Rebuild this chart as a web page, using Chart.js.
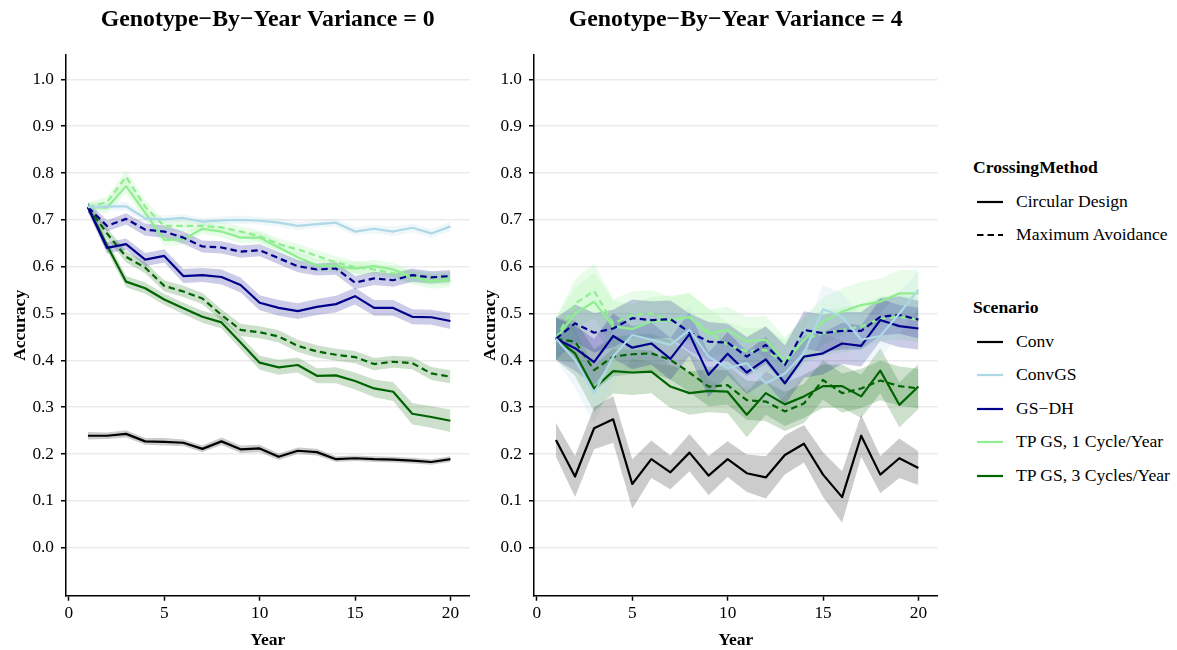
<!DOCTYPE html>
<html>
<head>
<meta charset="utf-8">
<script src="https://cdn.jsdelivr.net/npm/chart.js@4.4.0/dist/chart.umd.min.js"></script>
<style>
  body { margin: 0; background: #fff; width: 1177px; height: 650px; overflow: hidden; position: relative; font-family: 'Liberation Serif', serif; }
  canvas { position: absolute; top: 0; }
  #panel0 { left: 0; }
  #panel4 { left: 470px; }
  #legend { position: absolute; left: 973px; top: 151.25px; z-index: 2; color: #000; }
  .lg-group { margin-bottom: 39.5px; }
  .lg-title { height: 33.5px; line-height: 33.5px; font-size: 17.6px; font-weight: bold; white-space: nowrap; }
  .lg-row { position: relative; height: 33.5px; line-height: 33.5px; font-size: 17.6px; white-space: nowrap; }
  .lg-row svg { position: absolute; left: 4px; top: 15px; }
  .lg-row span { position: absolute; left: 43px; }
</style>
</head>
<body>
<canvas id="panel0" width="480" height="650"></canvas>
<canvas id="panel4" width="480" height="650"></canvas>
<div id="legend"></div>
<script>
  var years = [1, 2, 3, 4, 5, 6, 7, 8, 9, 10, 11, 12, 13, 14, 15, 16, 17, 18, 19, 20];
  var xTickValues = [0, 5, 10, 15, 20];
  var yTickValues = [0.0, 0.1, 0.2, 0.3, 0.4, 0.5, 0.6, 0.7, 0.8, 0.9, 1.0];
  var crossingMethods = ['Circular Design', 'Maximum Avoidance'];
  var scenarios = ['Conv', 'ConvGS', 'GS\u2212DH', 'TP GS, 1 Cycle/Year', 'TP GS, 3 Cycles/Year'];
  var panelTitles = ['Genotype\u2212By\u2212Year Variance = 0', 'Genotype\u2212By\u2212Year Variance = 4'];

  // Genotype-by-year variance = 0 : mean accuracy
  var v0Conv = [0.239, 0.239, 0.243, 0.227, 0.226, 0.224, 0.211, 0.227, 0.210, 0.212, 0.194, 0.207, 0.204, 0.189, 0.191, 0.189, 0.188, 0.186, 0.183, 0.189];
  var v0ConvGS = [0.727, 0.728, 0.729, 0.703, 0.701, 0.704, 0.696, 0.699, 0.700, 0.698, 0.694, 0.687, 0.691, 0.694, 0.675, 0.681, 0.675, 0.683, 0.671, 0.686];
  var v0GSDHCircular = [0.727, 0.640, 0.648, 0.615, 0.623, 0.580, 0.582, 0.578, 0.561, 0.523, 0.512, 0.505, 0.514, 0.520, 0.537, 0.512, 0.512, 0.493, 0.492, 0.484];
  var v0GSDHMaxAvoid = [0.727, 0.687, 0.702, 0.679, 0.675, 0.662, 0.643, 0.641, 0.632, 0.635, 0.618, 0.601, 0.594, 0.596, 0.566, 0.575, 0.571, 0.582, 0.577, 0.580];
  var v0TP1Circular = [0.727, 0.726, 0.772, 0.715, 0.657, 0.658, 0.681, 0.675, 0.662, 0.662, 0.641, 0.620, 0.603, 0.601, 0.596, 0.601, 0.594, 0.578, 0.568, 0.571];
  var v0TP1MaxAvoid = [0.727, 0.738, 0.792, 0.728, 0.687, 0.687, 0.687, 0.684, 0.675, 0.665, 0.648, 0.637, 0.623, 0.609, 0.599, 0.594, 0.586, 0.578, 0.575, 0.575];
  var v0TP3Circular = [0.727, 0.645, 0.568, 0.554, 0.530, 0.511, 0.493, 0.481, 0.438, 0.395, 0.385, 0.390, 0.367, 0.368, 0.356, 0.340, 0.333, 0.286, 0.279, 0.271];
  var v0TP3MaxAvoid = [0.727, 0.671, 0.621, 0.598, 0.559, 0.547, 0.532, 0.497, 0.465, 0.460, 0.451, 0.431, 0.419, 0.412, 0.407, 0.392, 0.397, 0.394, 0.372, 0.365];

  // Genotype-by-year variance = 0 : ribbon half widths
  var v0ConvBand = [0.008, 0.007, 0.008, 0.007, 0.008, 0.007, 0.007, 0.008, 0.008, 0.008, 0.007, 0.007, 0.007, 0.006, 0.006, 0.006, 0.006, 0.006, 0.006, 0.006];
  var v0ConvGSBand = [0.008, 0.008, 0.009, 0.008, 0.009, 0.008, 0.008, 0.008, 0.009, 0.008, 0.009, 0.009, 0.008, 0.009, 0.009, 0.009, 0.010, 0.009, 0.010, 0.010];
  var v0GSDHCircularBand = [0.010, 0.012, 0.012, 0.014, 0.014, 0.015, 0.015, 0.016, 0.016, 0.016, 0.017, 0.017, 0.017, 0.018, 0.018, 0.017, 0.017, 0.016, 0.016, 0.017];
  var v0GSDHMaxAvoidBand = [0.010, 0.012, 0.012, 0.013, 0.013, 0.013, 0.013, 0.013, 0.013, 0.013, 0.013, 0.013, 0.013, 0.013, 0.014, 0.014, 0.014, 0.014, 0.013, 0.013];
  var v0TP1CircularBand = [0.010, 0.012, 0.015, 0.014, 0.013, 0.012, 0.012, 0.012, 0.012, 0.012, 0.013, 0.013, 0.013, 0.013, 0.014, 0.014, 0.014, 0.015, 0.015, 0.015];
  var v0TP1MaxAvoidBand = [0.010, 0.012, 0.014, 0.014, 0.012, 0.012, 0.012, 0.012, 0.012, 0.012, 0.012, 0.012, 0.012, 0.013, 0.013, 0.013, 0.013, 0.014, 0.014, 0.014];
  var v0TP3CircularBand = [0.010, 0.012, 0.012, 0.012, 0.012, 0.012, 0.013, 0.013, 0.014, 0.015, 0.016, 0.016, 0.016, 0.017, 0.018, 0.019, 0.020, 0.023, 0.023, 0.024];
  var v0TP3MaxAvoidBand = [0.010, 0.012, 0.012, 0.012, 0.012, 0.012, 0.012, 0.012, 0.013, 0.013, 0.013, 0.013, 0.013, 0.013, 0.013, 0.013, 0.013, 0.013, 0.014, 0.014];

  // Genotype-by-year variance = 4 : mean accuracy
  var v4Conv = [0.230, 0.152, 0.255, 0.274, 0.136, 0.189, 0.161, 0.203, 0.154, 0.189, 0.159, 0.150, 0.198, 0.222, 0.156, 0.108, 0.239, 0.156, 0.191, 0.170];
  var v4ConvGS = [0.446, 0.401, 0.330, 0.408, 0.454, 0.444, 0.433, 0.465, 0.408, 0.383, 0.394, 0.351, 0.372, 0.415, 0.509, 0.493, 0.444, 0.452, 0.500, 0.551];
  var v4GSDHCircular = [0.446, 0.426, 0.396, 0.452, 0.427, 0.436, 0.403, 0.456, 0.369, 0.414, 0.374, 0.402, 0.351, 0.408, 0.415, 0.436, 0.431, 0.486, 0.473, 0.468];
  var v4GSDHMaxAvoid = [0.446, 0.479, 0.459, 0.468, 0.490, 0.486, 0.488, 0.460, 0.440, 0.438, 0.408, 0.433, 0.390, 0.465, 0.458, 0.463, 0.463, 0.493, 0.497, 0.487];
  var v4TP1Circular = [0.446, 0.500, 0.525, 0.472, 0.467, 0.483, 0.486, 0.492, 0.456, 0.465, 0.440, 0.444, 0.397, 0.444, 0.483, 0.504, 0.518, 0.525, 0.543, 0.543];
  var v4TP1MaxAvoid = [0.446, 0.521, 0.548, 0.479, 0.497, 0.500, 0.485, 0.493, 0.461, 0.433, 0.419, 0.422, 0.394, 0.444, 0.458, 0.465, 0.472, 0.489, 0.493, 0.486];
  var v4TP3Circular = [0.446, 0.415, 0.340, 0.377, 0.374, 0.376, 0.344, 0.330, 0.335, 0.333, 0.284, 0.330, 0.306, 0.323, 0.345, 0.345, 0.323, 0.378, 0.305, 0.344];
  var v4TP3MaxAvoid = [0.446, 0.440, 0.379, 0.408, 0.413, 0.415, 0.401, 0.374, 0.344, 0.347, 0.315, 0.312, 0.291, 0.308, 0.358, 0.330, 0.340, 0.357, 0.345, 0.340];

  // Genotype-by-year variance = 4 : ribbon half widths
  var v4ConvBand = [0.036, 0.044, 0.045, 0.050, 0.053, 0.040, 0.036, 0.040, 0.042, 0.038, 0.040, 0.045, 0.042, 0.040, 0.048, 0.055, 0.045, 0.040, 0.042, 0.036];
  var v4ConvGSBand = [0.045, 0.060, 0.065, 0.055, 0.050, 0.048, 0.045, 0.050, 0.050, 0.048, 0.050, 0.050, 0.048, 0.045, 0.052, 0.050, 0.050, 0.048, 0.045, 0.040];
  var v4GSDHCircularBand = [0.045, 0.048, 0.050, 0.048, 0.046, 0.045, 0.045, 0.046, 0.048, 0.046, 0.046, 0.048, 0.046, 0.045, 0.045, 0.044, 0.044, 0.045, 0.045, 0.045];
  var v4GSDHMaxAvoidBand = [0.045, 0.040, 0.042, 0.040, 0.040, 0.040, 0.040, 0.040, 0.042, 0.040, 0.042, 0.040, 0.042, 0.040, 0.040, 0.040, 0.040, 0.040, 0.040, 0.040];
  var v4TP1CircularBand = [0.045, 0.055, 0.062, 0.055, 0.052, 0.052, 0.052, 0.052, 0.052, 0.050, 0.052, 0.050, 0.052, 0.050, 0.050, 0.050, 0.050, 0.050, 0.050, 0.050];
  var v4TP1MaxAvoidBand = [0.045, 0.052, 0.058, 0.052, 0.050, 0.050, 0.050, 0.050, 0.050, 0.048, 0.050, 0.048, 0.050, 0.048, 0.048, 0.048, 0.048, 0.048, 0.048, 0.048];
  var v4TP3CircularBand = [0.045, 0.048, 0.050, 0.048, 0.048, 0.046, 0.046, 0.046, 0.046, 0.046, 0.048, 0.046, 0.046, 0.046, 0.046, 0.046, 0.046, 0.048, 0.048, 0.048];
  var v4TP3MaxAvoidBand = [0.045, 0.045, 0.045, 0.042, 0.042, 0.042, 0.042, 0.042, 0.042, 0.042, 0.042, 0.042, 0.042, 0.042, 0.042, 0.042, 0.042, 0.042, 0.042, 0.042];

(function (global) {
  'use strict';

  var FONT = "'Liberation Serif', 'Times New Roman', serif";
  var COLORS = {
    'Conv': [0, 0, 0],
    'ConvGS': [173, 216, 230],
    'GS\u2212DH': [0, 0, 139],
    'TP GS, 1 Cycle/Year': [144, 238, 144],
    'TP GS, 3 Cycles/Year': [0, 100, 0]
  };
  var DASH = [6.5, 4];
  var charts = [];

  Chart.defaults.color = '#000';
  Chart.defaults.font.family = FONT;

  function rgba(c, a) {
    return 'rgba(' + c[0] + ',' + c[1] + ',' + c[2] + ',' + a + ')';
  }

  function series(scenario, method, values, band) {
    return { scenario: scenario, method: method, values: values, band: band };
  }

  var panels = [
    [
      series('Conv', 'Circular Design', v0Conv, v0ConvBand),
      series('ConvGS', 'Circular Design', v0ConvGS, v0ConvGSBand),
      series('GS\u2212DH', 'Circular Design', v0GSDHCircular, v0GSDHCircularBand),
      series('GS\u2212DH', 'Maximum Avoidance', v0GSDHMaxAvoid, v0GSDHMaxAvoidBand),
      series('TP GS, 1 Cycle/Year', 'Circular Design', v0TP1Circular, v0TP1CircularBand),
      series('TP GS, 1 Cycle/Year', 'Maximum Avoidance', v0TP1MaxAvoid, v0TP1MaxAvoidBand),
      series('TP GS, 3 Cycles/Year', 'Circular Design', v0TP3Circular, v0TP3CircularBand),
      series('TP GS, 3 Cycles/Year', 'Maximum Avoidance', v0TP3MaxAvoid, v0TP3MaxAvoidBand)
    ],
    [
      series('Conv', 'Circular Design', v4Conv, v4ConvBand),
      series('ConvGS', 'Circular Design', v4ConvGS, v4ConvGSBand),
      series('GS\u2212DH', 'Circular Design', v4GSDHCircular, v4GSDHCircularBand),
      series('GS\u2212DH', 'Maximum Avoidance', v4GSDHMaxAvoid, v4GSDHMaxAvoidBand),
      series('TP GS, 1 Cycle/Year', 'Circular Design', v4TP1Circular, v4TP1CircularBand),
      series('TP GS, 1 Cycle/Year', 'Maximum Avoidance', v4TP1MaxAvoid, v4TP1MaxAvoidBand),
      series('TP GS, 3 Cycles/Year', 'Circular Design', v4TP3Circular, v4TP3CircularBand),
      series('TP GS, 3 Cycles/Year', 'Maximum Avoidance', v4TP3MaxAvoid, v4TP3MaxAvoidBand)
    ]
  ];

  function points(values, offsets, sign) {
    return years.map(function (yr, i) {
      return { x: yr, y: values[i] + sign * (offsets ? offsets[i] : 0) };
    });
  }

  function buildDatasets(panel) {
    var ds = [];
    // ribbons first (drawn underneath)
    panel.forEach(function (s) {
      var c = COLORS[s.scenario];
      var lowerIndex = ds.length;
      ds.push({
        data: points(s.values, s.band, -1),
        borderColor: 'rgba(0,0,0,0)',
        borderWidth: 0,
        pointRadius: 0,
        fill: false,
        order: 2
      });
      ds.push({
        data: points(s.values, s.band, 1),
        borderColor: 'rgba(0,0,0,0)',
        borderWidth: 0,
        pointRadius: 0,
        backgroundColor: rgba(c, 0.2),
        fill: lowerIndex,
        order: 2
      });
    });
    panel.forEach(function (s) {
      ds.push({
        label: s.scenario + ' / ' + s.method,
        data: points(s.values, null, 0),
        borderColor: rgba(COLORS[s.scenario], 1),
        borderWidth: 2.2,
        borderDash: s.method === 'Maximum Avoidance' ? DASH : [],
        pointRadius: 0,
        fill: false,
        order: 1
      });
    });
    return ds;
  }

  function renderPanel(canvas, title, panel, axisWidth, padRight) {
    return new Chart(canvas, {
      type: 'line',
      data: { datasets: buildDatasets(panel) },
      options: {
        responsive: false,
        animation: false,
        events: [],
        layout: { padding: { top: 0, right: padRight, bottom: 0, left: 0 } },
        elements: { line: { tension: 0, borderCapStyle: 'butt', borderJoinStyle: 'round' } },
        plugins: {
          legend: { display: false },
          tooltip: { enabled: false },
          title: {
            display: true,
            fullSize: false,
            text: title,
            color: '#000',
            font: { family: FONT, size: 23.8, weight: 'bold' },
            padding: { top: 6, bottom: 20.4 }
          }
        },
        scales: {
          x: {
            type: 'linear',
            min: -0.15,
            max: 21.0,
            afterBuildTicks: function (scale) {
              scale.ticks = xTickValues.map(function (v) { return { value: v }; });
            },
            afterFit: function (scale) {
              scale.height = 54.3;
            },
            grid: { drawOnChartArea: false, drawTicks: true, tickLength: 5, tickColor: '#000', tickWidth: 1.5 },
            border: { display: true, color: '#000', width: 1.5 },
            ticks: {
              color: '#000',
              padding: 2,
              font: { family: FONT, size: 17.3 },
              maxRotation: 0,
              callback: function (v) { return String(v); }
            },
            title: {
              display: true,
              text: 'Year',
              color: '#000',
              font: { family: FONT, size: 17.5, weight: 'bold' },
              padding: { top: 0, bottom: -1 }
            }
          },
          y: {
            type: 'linear',
            min: -0.1025,
            max: 1.052,
            afterBuildTicks: function (scale) {
              scale.ticks = yTickValues.map(function (v) { return { value: v }; });
            },
            afterFit: function (scale) {
              scale.width = axisWidth;
            },
            grid: { color: '#ebebeb', lineWidth: 1.5, drawTicks: true, tickLength: 5, tickColor: '#000', tickWidth: 1.5 },
            border: { display: true, color: '#000', width: 1.5 },
            ticks: {
              color: '#000',
              padding: 7,
              font: { family: FONT, size: 17.3 },
              callback: function (v) { return Number(v).toFixed(1); }
            },
            title: {
              display: true,
              text: 'Accuracy',
              color: '#000',
              font: { family: FONT, size: 17.5, weight: 'bold' },
              padding: { top: 9.5, bottom: 0 }
            }
          }
        }
      }
    });
  }

  function lineSample(color, dashed) {
    return '<svg width="26" height="4"><line x1="0" y1="2" x2="26" y2="2" stroke="' + color +
      '" stroke-width="2.2"' + (dashed ? ' stroke-dasharray="' + DASH.join(' ') + '"' : '') + '/></svg>';
  }

  function renderLegend(el) {
    var html = '<div class="lg-group"><div class="lg-title">CrossingMethod</div>';
    crossingMethods.forEach(function (m, i) {
      html += '<div class="lg-row">' + lineSample('#000', i === 1) + '<span>' + m + '</span></div>';
    });
    html += '</div><div class="lg-group"><div class="lg-title">Scenario</div>';
    scenarios.forEach(function (s) {
      html += '<div class="lg-row">' + lineSample(rgba(COLORS[s], 1), false) + '<span>' + s + '</span></div>';
    });
    html += '</div>';
    el.innerHTML = html;
  }

  // chart areas: left 66..469.5, right 534..937.5 (page coordinates)
  charts.push(renderPanel(document.getElementById('panel0'), panelTitles[0], panels[0], 66, 10.5));
  charts.push(renderPanel(document.getElementById('panel4'), panelTitles[1], panels[1], 64, 12.5));
  renderLegend(document.getElementById('legend'));

  // redraw once the serif face is surely available to the canvas
  if (document.fonts && document.fonts.load) {
    Promise.all([
      document.fonts.load("17px 'Liberation Serif'"),
      document.fonts.load("bold 17px 'Liberation Serif'")
    ]).then(function () {
      charts.forEach(function (c) { c.update(); });
    });
  }
})(window);
</script>
</body>
</html>
